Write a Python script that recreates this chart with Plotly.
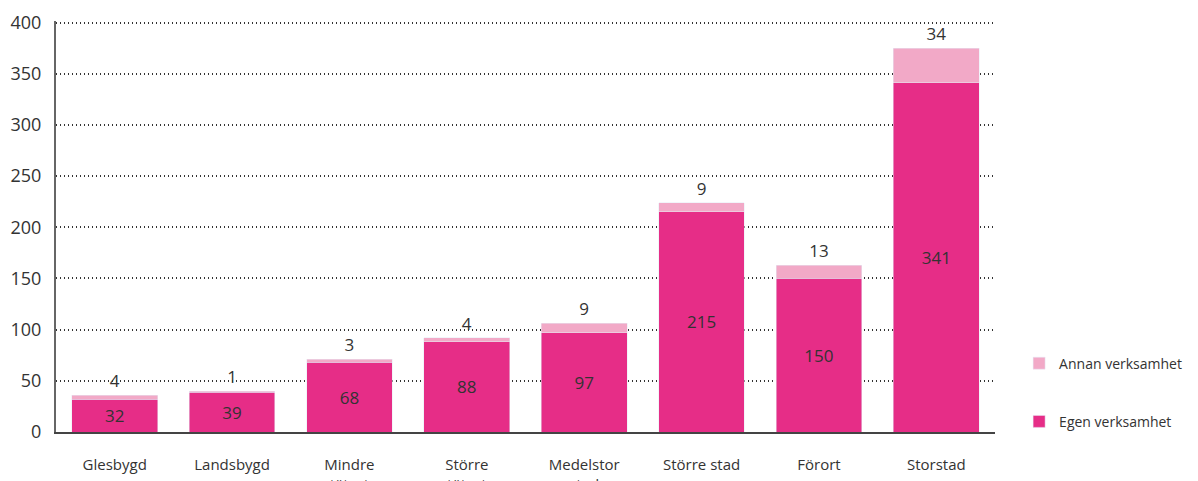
import plotly.graph_objects as go

categories = ["Glesbygd", "Landsbygd", "Mindre<br>tätort", "Större<br>tätort",
              "Medelstor<br>stad", "Större stad", "Förort", "Storstad"]
egen = [32, 39, 68, 88, 97, 215, 150, 341]
annan = [4, 1, 3, 4, 9, 9, 13, 34]
y_ticks = [0, 50, 100, 150, 200, 250, 300, 350, 400]

C_EGEN = "#E62D87"
C_ANNAN = "#F2A9C7"
FONT = "Open Sans"
TXT = "#333333"

fig = go.Figure()
fig.add_trace(go.Bar(
    x=categories, y=egen, name="Egen verksamhet", marker_color=C_EGEN,
    text=egen, textposition="inside", insidetextanchor="middle",
    textfont=dict(size=17, color=TXT, family=FONT),
    legendgroup="e", legendrank=2,
))
fig.add_trace(go.Bar(
    x=categories, y=annan, name="Annan verksamhet", marker_color=C_ANNAN,
    text=annan, textposition="outside", cliponaxis=False,
    textfont=dict(size=17, color=TXT, family=FONT),
    legendgroup="a", legendrank=1,
))

fig.update_layout(
    width=1198, height=481,
    barmode="stack", bargap=0.27,
    plot_bgcolor="white", paper_bgcolor="white",
    margin=dict(l=48, r=211, t=13, b=57),
    font=dict(family=FONT, size=15, color=TXT),
    legend=dict(
        xref="container", yref="container",
        x=0.844, y=0.294, xanchor="left", yanchor="top",
        traceorder="grouped", tracegroupgap=37,
        font=dict(size=14, color=TXT, family=FONT),
        itemwidth=30,
    ),
    xaxis=dict(
        showline=True, linecolor="#444444", linewidth=2,
        ticks="outside", ticklen=18, tickcolor="white",
        tickfont=dict(size=15, color=TXT), automargin=False,
    ),
    yaxis=dict(
        range=[0, 401.5], tickvals=y_ticks,
        showline=True, linecolor="#666666", linewidth=2,
        showgrid=True, gridcolor="#333333", griddash="1px,3px", gridwidth=1.5,
        ticks="outside", ticklen=9, tickcolor="white",
        tickfont=dict(size=18, color=TXT), zeroline=False, automargin=False,
        ticklabeloverflow="allow",
    ),
)

fig.write_html("out.html")
